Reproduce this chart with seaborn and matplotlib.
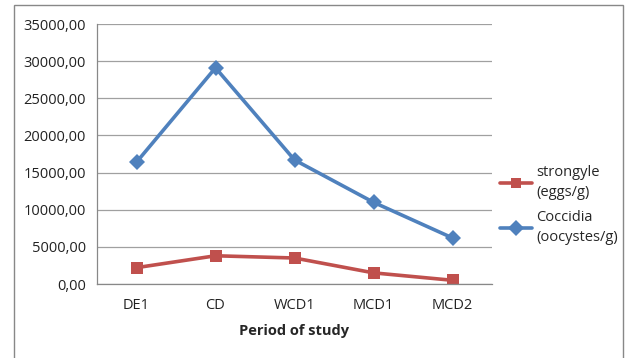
import matplotlib
matplotlib.use("Agg")
import matplotlib.pyplot as plt
import matplotlib.ticker as mticker
from matplotlib.patches import Rectangle
import seaborn as sns
import pandas as pd

periods = ["DE1", "CD", "WCD1", "MCD1", "MCD2"]
strongyle = [2200, 3800, 3500, 1500, 500]
coccidia = [16400, 29100, 16700, 11000, 6200]
series_names = ["strongyle\n(eggs/g)", "Coccidia\n(oocystes/g)"]
y_ticks = [0, 5000, 10000, 15000, 20000, 25000, 30000, 35000]

df = pd.DataFrame({
    "period": periods * 2,
    "x": list(range(len(periods))) * 2,
    "value": strongyle + coccidia,
    "series": [series_names[0]] * len(periods) + [series_names[1]] * len(periods),
})

sns.set_style("white")
plt.rcParams["font.family"] = ["Open Sans", "DejaVu Sans"]

fig = plt.figure(figsize=(6.31, 3.58), dpi=100)
ax = fig.add_axes([97 / 631, 1 - 284 / 358, (492 - 97) / 631, (284 - 24) / 358])

palette = {series_names[0]: "#C0504D", series_names[1]: "#4F81BD"}
markers = {series_names[0]: "s", series_names[1]: "D"}
sns.lineplot(data=df, x="x", y="value", hue="series", style="series",
             palette=palette, markers=markers, dashes=False, linewidth=2.6,
             markersize=8.5, markeredgewidth=0, ax=ax, legend=True)

ax.set_xlim(-0.5, len(periods) - 0.5)
ax.set_ylim(0, 35000)
ax.set_yticks(y_ticks)
ax.yaxis.set_major_formatter(mticker.FuncFormatter(lambda v, p: f"{v:.2f}".replace(".", ",")))
ax.set_xticks(range(len(periods)))
ax.set_xticklabels(periods)
ax.set_xticks([i - 0.5 for i in range(len(periods) + 1)], minor=True)
ax.tick_params(axis="x", which="major", length=0, pad=10, labelsize=10.5, colors="#222222")
ax.tick_params(axis="x", which="minor", length=5, color="#888888", direction="out")
ax.tick_params(axis="y", length=5, direction="out", labelsize=10.5, pad=3,
               color="#888888", labelcolor="#222222")
ax.grid(axis="y", color="#a0a0a0", linewidth=0.9)
ax.set_axisbelow(True)
for s in ["top", "right"]:
    ax.spines[s].set_visible(False)
for s in ["left", "bottom"]:
    ax.spines[s].set_color("#888888")
    ax.spines[s].set_linewidth(0.9)

ax.set_xlabel("Period of study", fontsize=10.5, fontweight="bold", labelpad=8)
ax.set_ylabel("")

leg = ax.legend(loc="center left", bbox_to_anchor=(494 / 631, 1 - 205 / 358),
                bbox_transform=fig.transFigure, frameon=False, fontsize=10.5,
                handlelength=2.2, handletextpad=0.3, labelspacing=0.7, borderaxespad=0,
                markerscale=0.9)
for t in leg.get_texts():
    t.set_linespacing(1.45)

fig.patches.append(Rectangle((14 / 631, -0.05), (623 - 14) / 631, 1 - 5 / 358 + 0.05,
                             transform=fig.transFigure, fill=False,
                             edgecolor="#888888", linewidth=1.0))

fig.savefig("out.png", dpi=100)
